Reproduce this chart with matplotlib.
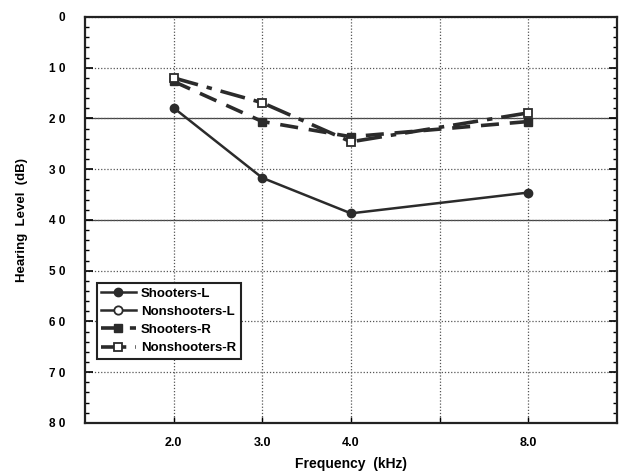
import matplotlib.pyplot as plt
from matplotlib.lines import Line2D
from matplotlib.ticker import MultipleLocator

# ------------ Data ------------
freq_labels = ["2.0", "3.0", "4.0", "8.0"]
freq_pos = [1, 2, 3, 5]          # category slots on the x axis (slot 4 is empty)

shooters_l = [17.9, 31.7, 38.7, 34.6]
shooters_r = [12.7, 20.6, 23.6, 20.6]
nonshooters_r = [12.0, 16.9, 24.6, 18.9]
# Nonshooters-L is not visible in the figure (hidden behind the R curves)

y_ticks = [0, 10, 20, 30, 40, 50, 60, 70, 80]
y_labels = ["0", "1 0", "2 0", "3 0", "4 0", "5 0", "6 0", "7 0", "8 0"]

# ------------ Plot ------------
plt.rcParams["font.family"] = ["Liberation Sans", "DejaVu Sans"]
plt.rcParams["font.weight"] = "bold"

fig = plt.figure(figsize=(6.2, 4.72), dpi=100)
ax = fig.add_axes([0.137, 0.104, 0.858, 0.860])

ink = "#2b2b2b"
ax.plot(freq_pos, shooters_l, color=ink, lw=1.8, marker="o", ms=6,
        label="Shooters-L", zorder=4)
ax.plot(freq_pos, shooters_r, color=ink, lw=2.6, ls=(0, (5, 3)), marker="s", ms=6,
        label="Shooters-R", zorder=4)
ax.plot(freq_pos, nonshooters_r, color=ink, lw=2.6, ls=(0, (7, 2.5, 1.5, 2.5)), marker="s",
        ms=6, mfc="white", mec=ink, mew=1.3, label="Nonshooters-R", zorder=5)

ax.set_xlim(0, 6)
ax.set_ylim(80, 0)
ax.set_xticks(freq_pos)
ax.set_xticklabels(freq_labels, fontsize=9, fontweight="bold")
ax.set_xticks([4], minor=True)
ax.set_yticks(y_ticks)
ax.set_yticklabels(y_labels, fontsize=8.5, fontweight="bold")
ax.yaxis.set_minor_locator(MultipleLocator(2))
ax.tick_params(axis="both", which="both", direction="in", right=True, top=False)
ax.tick_params(axis="y", which="major", length=6, width=1.2, pad=14)
ax.tick_params(axis="y", which="minor", length=3, width=1)
ax.tick_params(axis="x", which="both", length=4, width=1, pad=10)

dots = dict(ls=(0, (1, 1.5)), color="#555555", lw=0.9)
ax.grid(True, which="major", axis="y", **dots)
ax.grid(True, which="both", axis="x", **dots)
ax.axhline(20, color="#444444", lw=0.9, zorder=1)
ax.axhline(40, color="#444444", lw=0.9, zorder=1)

for s in ax.spines.values():
    s.set_linewidth(1.6)
    s.set_color("#222222")

ax.set_xlabel("Frequency  (kHz)", fontsize=10, fontweight="bold", labelpad=6)
ax.set_ylabel("Hearing  Level  (dB)", fontsize=9.5, fontweight="bold", labelpad=15)

handles, labels = ax.get_legend_handles_labels()
ns_l = Line2D([], [], color=ink, lw=1.8, marker="o", ms=6, mfc="white", mec=ink, mew=1.3)
handles = [handles[0], ns_l, handles[1], handles[2]]
labels = ["Shooters-L", "Nonshooters-L", "Shooters-R", "Nonshooters-R"]
leg = ax.legend(handles, labels, loc="lower left", bbox_to_anchor=(0.022, 0.158),
                fontsize=9.5, fancybox=False, framealpha=1, edgecolor="#222222",
                handlelength=2.6, handletextpad=0.4, labelspacing=0.45,
                borderpad=0.35, borderaxespad=0)
leg.get_frame().set_linewidth(1.5)
for t in leg.get_texts():
    t.set_fontweight("bold")

fig.savefig("out.png", dpi=100)
